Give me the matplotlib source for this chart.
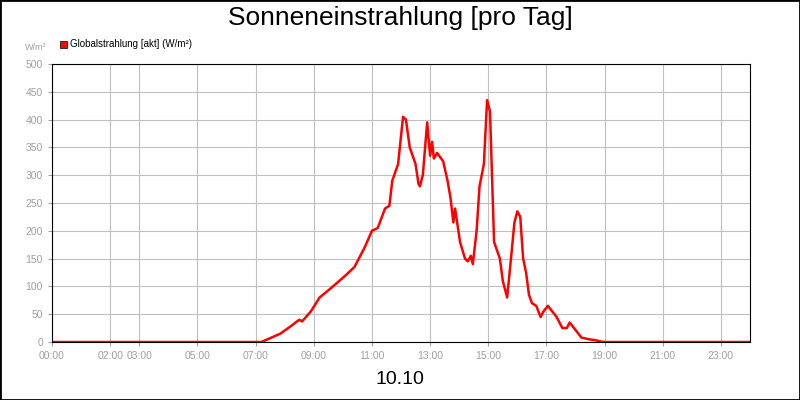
import matplotlib
matplotlib.use("Agg")
import matplotlib.pyplot as plt
from matplotlib.patches import Rectangle

plt.rcParams["font.family"] = ["Liberation Sans", "DejaVu Sans"]

hours = [0, 7.2, 7.85, 8.2, 8.5, 8.6, 8.9, 9.2, 9.55, 10.1, 10.4, 10.75, 11.0, 11.2, 11.45, 11.6,
         11.7, 11.9, 12.07, 12.17, 12.3, 12.5, 12.6, 12.65, 12.75, 12.9, 13.0, 13.07, 13.13, 13.24,
         13.45, 13.6, 13.7, 13.8, 13.86, 14.03, 14.2, 14.3, 14.4, 14.47, 14.6, 14.7, 14.85, 14.96,
         15.06, 15.2, 15.4, 15.5, 15.65, 15.8, 15.9, 16.0, 16.1, 16.2, 16.3, 16.4, 16.5, 16.65,
         16.8, 16.9, 17.05, 17.2, 17.35, 17.55, 17.7, 17.8, 17.95, 18.1, 18.2, 18.45, 18.7, 18.95, 24]
values = [0, 0, 15, 28, 40, 37, 55, 80, 95, 120, 135, 170, 200, 205, 240, 245,
          290, 320, 405, 400, 350, 320, 285, 280, 300, 395, 335, 360, 330, 340,
          325, 290, 260, 215, 240, 180, 150, 145, 155, 140, 200, 280, 320, 435,
          415, 180, 150, 110, 80, 160, 215, 235, 225, 150, 125, 85, 70, 65,
          45, 55, 65, 55, 45, 25, 25, 35, 25, 15, 8, 5, 3, 0, 0]

grid_hours = [0, 2, 3, 5, 7, 9, 11, 13, 15, 17, 19, 21, 23]
tick_labels = ["00:00", "02:00", "03:00", "05:00", "07:00", "09:00", "11:00", "13:00",
               "15:00", "17:00", "19:00", "21:00", "23:00"]

fig = plt.figure(figsize=(8, 4), dpi=100)
fig.patches.append(Rectangle((0, 0), 1, 1, transform=fig.transFigure, fill=False,
                             edgecolor="black", linewidth=2))
ax = fig.add_axes([52 / 800, 58 / 400, 698 / 800, 278 / 400])
ax.plot(hours, values, color="#ff0000", linewidth=1.8)
ax.set_xlim(0, 24)
ax.set_ylim(0, 500)
ax.set_yticks(range(0, 501, 50))
ax.set_xticks(grid_hours)
ax.set_xticklabels(tick_labels)
ax.grid(True, color="#c0c0c0", linewidth=0.8)
ax.tick_params(colors="#a0a0a0", labelsize=7.5, length=3)
for s in ax.spines.values():
    s.set_color("black")

fig.text(0.5, 0.955, "Sonneneinstrahlung [pro Tag]", ha="center", va="center", fontsize=19)
fig.text(0.5, 0.05, "10.10", ha="center", va="center", fontsize=14)
fig.text(25 / 800, 1 - 47 / 400, "W/m²", fontsize=6.5, color="#a0a0a0", va="center")
fig.patches.append(Rectangle((60 / 800, 1 - 48 / 400), 7 / 800, 7 / 400,
                             transform=fig.transFigure, facecolor="#ff0000", edgecolor="black", linewidth=0.5))
fig.text(70 / 800, 1 - 44 / 400, "Globalstrahlung [akt] (W/m²)", fontsize=7, va="center")

fig.savefig("out.png")
